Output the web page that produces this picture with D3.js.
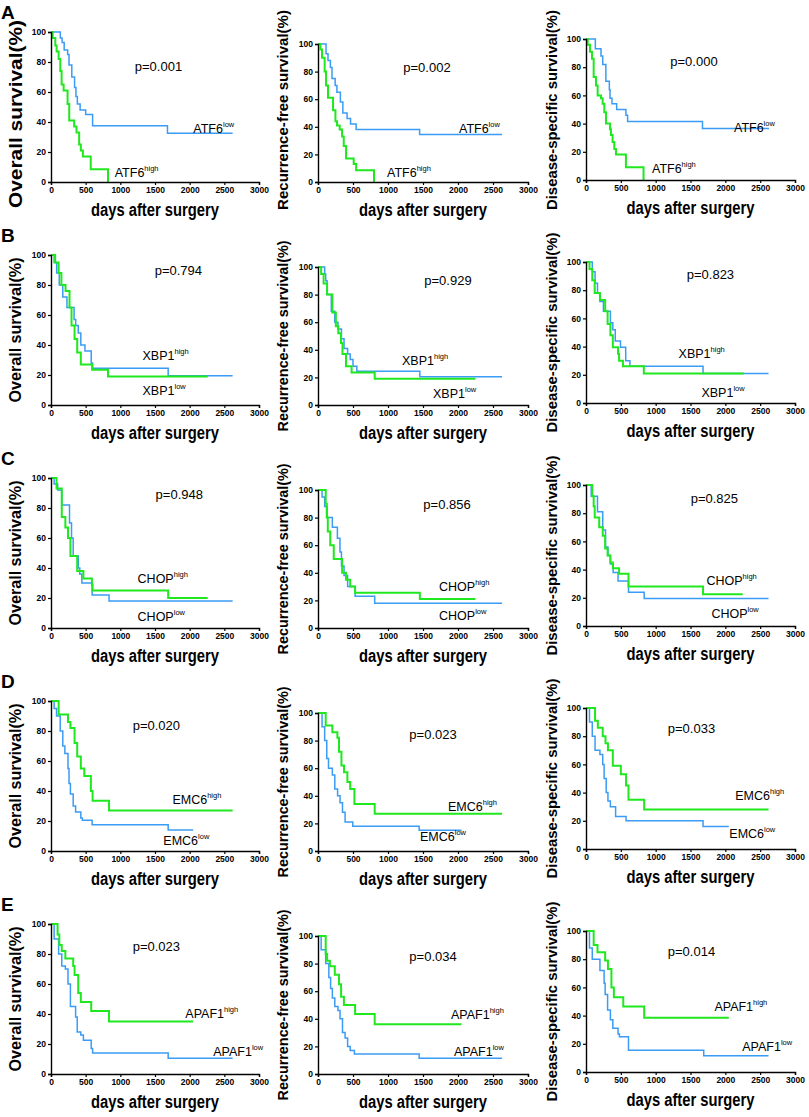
<!DOCTYPE html>
<html>
<head>
<meta charset="utf-8">
<script src="https://cdn.jsdelivr.net/npm/d3@7"></script>
<style>
  body { margin: 0; background: #fff; }
  svg { display: block; }
  text { font-family: "Liberation Sans", Arial, Helvetica, sans-serif; }
</style>
</head>
<body>
<svg width="809" height="1117"></svg>
<script>
// ---- data: [day, survival %] at each step ----
var xTicks = [0, 500, 1000, 1500, 2000, 2500, 3000];
var yTicks = [0, 20, 40, 60, 80, 100];
var genes = ["ATF6", "XBP1", "CHOP", "EMC6", "APAF1"];
var rowLetters = ["A", "B", "C", "D", "E"];
var yTitles = ["Overall survival(%)", "Recurrence-free survival(%)", "Disease-specific survival(%)"];
var pValues = [
  ["0.001", "0.002", "0.000"],
  ["0.794", "0.929", "0.823"],
  ["0.948", "0.856", "0.825"],
  ["0.020", "0.023", "0.033"],
  ["0.023", "0.034", "0.014"]
];

// ATF6
var atf6OsLow = [[0,100],[134,96],[160,93],[190,88],[240,85],[260,78],[300,70],[340,63],[360,57],[380,52],[420,48],[500,45],[600,37.5],[1680,32.5],[2620,32.5]];
var atf6OsHigh = [[0,100],[24,96],[62,91],[81,87],[110,82],[134,74],[153,65],[182,61],[239,52],[263,41],[334,37],[368,33],[406,25],[430,21],[460,17],[573,8.5],[822,0]];
var atf6RfsLow = [[0,100],[115,93],[143,88],[177,83],[200,75],[245,70],[270,65],[320,58],[355,50],[415,46],[465,42],[545,38],[1452,34.5],[2630,34.5]];
var atf6RfsHigh = [[0,100],[35,96],[57,90],[95,80],[115,70],[143,61],[215,52],[249,44],[272,41],[310,38],[344,33],[368,26],[401,17],[510,13],[545,8.5],[800,0]];
var atf6DssLow = [[0,100],[134,93],[215,88],[240,82],[285,70],[335,64],[345,58],[373,54],[440,50],[573,46],[597,41.5],[1672,36.5],[2627,36.5]];
var atf6DssHigh = [[0,100],[24,96],[57,91],[86,86],[110,73],[143,67],[167,60],[215,58],[239,54],[263,48],[287,40],[344,36],[358,32],[382,27],[406,22],[430,18],[573,9],[826,0]];

// XBP1
var xbp1OsLow = [[0,100],[45,95],[82,88],[119,80],[170,72],[230,65],[333,57],[356,53],[393,48],[430,40],[490,36],[580,28],[600,24.5],[1690,19.5],[2620,19.5]];
var xbp1OsHigh = [[0,100],[60,95],[110,88],[150,80],[210,76],[267,65],[296,53],[340,44],[378,35],[430,27],[593,23.5],[822,19],[2260,19]];
var xbp1RfsLow = [[0,100],[95,95],[110,90],[130,80],[190,68],[240,60],[285,55],[335,48],[372,41],[423,37],[460,33],[500,28],[555,24.5],[1455,20.5],[2630,20.5]];
var xbp1RfsHigh = [[0,100],[45,95],[80,88],[130,80],[205,67],[255,57],[290,52],[328,45],[350,37],[400,28],[480,23.5],[810,19],[2250,19]];
var xbp1DssLow = [[0,100],[90,93],[130,85],[165,78],[200,72],[250,65],[350,57],[385,52],[420,44],[495,39.5],[570,30],[630,26],[1680,21],[2620,21]];
var xbp1DssHigh = [[0,100],[50,95],[90,87],[125,78],[200,73],[275,65],[310,56],[350,48],[385,39.5],[460,35],[475,30],[530,26],[830,21],[2270,21]];

// CHOP
var chopOsLow = [[0,100],[45,96],[96,92],[155,82],[267,70],[296,60],[320,48],[393,40],[415,36],[445,30],[593,22],[837,18],[2620,18]];
var chopOsHigh = [[0,100],[80,93],[155,74],[207,67],[245,60],[280,48],[378,38],[467,33],[590,29],[600,25],[1690,20],[2260,20]];
var chopRfsLow = [[0,100],[58,95],[95,88],[130,80],[205,73],[277,65],[314,55],[335,45],[372,38],[423,30],[530,23],[810,18],[2630,18]];
var chopRfsHigh = [[0,100],[110,90],[125,80],[140,70],[175,60],[225,50],[345,40],[400,35],[460,30],[530,25.5],[1455,21],[2250,21]];
var chopDssLow = [[0,100],[75,92],[165,81],[240,68],[280,56],[315,50],[350,44],[390,38],[460,32],[610,24],[835,19.5],[2620,19.5]];
var chopDssHigh = [[0,100],[90,92],[110,85],[125,77],[190,70],[240,64],[275,55],[310,50],[350,45],[385,41],[475,37],[610,28],[1680,22.5],[2250,22.5]];

// EMC6
var emc6OsLow = [[0,100],[45,95],[80,90],[133,80],[170,70],[200,65],[245,55],[260,45],[280,38],[320,30],[355,26],[430,22],[452,20.5],[593,17.5],[1690,14],[2050,14]];
var emc6OsHigh = [[0,100],[110,91],[245,86],[280,82],[340,72],[378,63],[430,55],[480,50],[575,40],[600,33.5],[837,27],[2620,27]];
var emc6RfsLow = [[0,100],[58,90],[95,80],[125,67],[150,60],[205,55],[240,45],[280,40],[315,35],[350,28],[387,21],[497,18],[1445,15],[2050,15]];
var emc6RfsHigh = [[0,100],[110,91],[205,86],[277,82],[300,72],[335,62],[372,57],[420,50],[460,45],[520,34],[810,27],[2630,27]];
var emc6DssLow = [[0,100],[50,90],[90,80],[130,70],[200,67],[240,60],[260,50],[290,40],[315,34],[350,30],[425,23],[575,20],[1680,16],[2050,16]];
var emc6DssHigh = [[0,100],[130,91],[170,86],[240,80],[280,75],[315,70],[385,59],[500,53],[575,45],[610,35],[835,28],[2620,28]];

// APAF1
var apafOsLow = [[0,100],[45,90],[110,80],[155,72],[207,70],[245,60],[280,45],[355,38],[378,28],[430,26],[467,22.5],[580,17],[600,14],[1690,10.5],[2620,10.5]];
var apafOsHigh = [[0,100],[95,93],[120,86],[155,82],[207,77],[320,72],[340,66],[393,54],[430,48],[580,42],[837,35],[2050,35]];
var apafRfsLow = [[0,100],[45,90],[110,80],[155,70],[180,62],[205,55],[240,49],[285,46],[315,40],[350,30],[387,26],[423,20],[460,17],[520,14.5],[1445,11.5],[2630,11.5]];
var apafRfsHigh = [[0,100],[110,87],[130,82],[170,78],[240,72],[300,65],[330,56],[370,50],[530,43.5],[810,36],[2050,36]];
var apafDssLow = [[0,100],[50,88],[90,80],[200,72],[260,63],[275,55],[310,44],[350,37],[385,31],[460,27],[480,25],[610,15.5],[1690,11.5],[2620,11.5]];
var apafDssHigh = [[0,100],[110,90],[165,85],[275,79],[315,73],[365,60],[400,53],[535,46.5],[835,38.5],[2050,38.5]];

var lowCurves = [
  [atf6OsLow, atf6RfsLow, atf6DssLow],
  [xbp1OsLow, xbp1RfsLow, xbp1DssLow],
  [chopOsLow, chopRfsLow, chopDssLow],
  [emc6OsLow, emc6RfsLow, emc6DssLow],
  [apafOsLow, apafRfsLow, apafDssLow]
];
var highCurves = [
  [atf6OsHigh, atf6RfsHigh, atf6DssHigh],
  [xbp1OsHigh, xbp1RfsHigh, xbp1DssHigh],
  [chopOsHigh, chopRfsHigh, chopDssHigh],
  [emc6OsHigh, emc6RfsHigh, emc6DssHigh],
  [apafOsHigh, apafRfsHigh, apafDssHigh]
];

// ---- layout (where things sit on the page, in data units of each panel) ----
var colLeft = [51, 318, 586], colRight = [259, 528, 795];
var colHeight = [150, 138, 141];
var colYTitleX = [15.5, 283, 552];
var colYTitleLen = [145, 191, 200];
var colYTitleSize = [16, 15, 15];
// [day, survival] anchors for p text and the two group labels
var pPos = [
  [[1550,74],[1557,80],[1550,81]],
  [[1837,87],[1857,87],[1786,88]],
  [[1850,86],[1843,86],[1843,87]],
  [[1520,81],[1643,81],[1514,82]],
  [[1520,82],[1643,82],[1514,82]]
];
var highLabelPos = [
  [[919,3.4],[986,3.6],[947,5]],
  [[1320,30],[1200,29],[1329,32]],
  [[1249,30],[1729,27],[1729,29]],
  [[1751,31.6],[1857,29],[2143,35]],
  [[1938,37.6],[1900,40],[1843,43]]
];
var lowLabelPos = [
  [[2053,33],[2014,35.5],[2124,34]],
  [[1320,7],[1643,5],[1657,4]],
  [[1249,4.5],[1729,6],[1800,6]],
  [[1620,4],[1457,7],[2057,8]],
  [[2340,12],[1943,13],[2243,14.6]]
];

var svg = d3.select("svg");
var blue = "#3b9cf5", green = "#1fe81f";

rowLetters.forEach(function(letter, r) {
  var rowBottom = 182 + r * 223;

  svg.append("text")
      .attr("x", 1).attr("y", rowBottom - 163)
      .attr("font-size", 19).attr("font-weight", "bold")
      .text(letter);

  for (var c = 0; c < 3; c++) {
    var bottom = rowBottom - (c == 2 ? 2 : 0);
    var top = bottom - colHeight[c];
    var x = d3.scaleLinear().domain([0, 3000]).range([colLeft[c], colRight[c]]);
    var y = d3.scaleLinear().domain([0, 100]).range([bottom, top]);

    var g = svg.append("g");

    var line = d3.line()
        .x(function(d) { return x(d[0]); })
        .y(function(d) { return y(d[1]); })
        .curve(d3.curveStepAfter);

    g.append("path")
        .attr("d", line(lowCurves[r][c]))
        .attr("fill", "none")
        .attr("stroke", blue)
        .attr("stroke-width", 1.5);

    g.append("path")
        .attr("d", line(highCurves[r][c]))
        .attr("fill", "none")
        .attr("stroke", green)
        .attr("stroke-width", 2);

    var xAxis = g.append("g")
        .attr("transform", "translate(0," + bottom + ")")
        .call(d3.axisBottom(x).tickValues(xTicks).tickSize(3).tickPadding(2).tickFormat(d3.format("d")));
    var yAxis = g.append("g")
        .attr("transform", "translate(" + colLeft[c] + ",0)")
        .call(d3.axisLeft(y).tickValues(yTicks).tickSize(3).tickPadding(2));

    [xAxis, yAxis].forEach(function(a) {
      a.select(".domain").attr("stroke", "#000").attr("stroke-width", 1.4);
      a.selectAll(".tick line").attr("stroke", "#000").attr("stroke-width", 1.2);
      a.selectAll(".tick text")
          .attr("font-size", 8.5).attr("font-weight", "bold")
          .attr("font-family", "Liberation Sans, Arial, sans-serif")
          .attr("fill", "#000");
    });

    // axis titles
    g.append("text")
        .attr("x", (colLeft[c] + colRight[c]) / 2)
        .attr("y", bottom + 34)
        .attr("text-anchor", "middle")
        .attr("font-size", 18).attr("font-weight", "bold")
        .attr("textLength", 128).attr("lengthAdjust", "spacingAndGlyphs")
        .text("days after surgery");

    var firstRow = r == 0;
    var yLen = firstRow && c == 0 ? 188 : (firstRow && c == 1 ? 200 : colYTitleLen[c]);
    var ySize = firstRow && c == 0 ? 19 : colYTitleSize[c];
    var yMid = firstRow && c == 0 ? 114 : (firstRow ? 110 : (top + bottom) / 2);
    g.append("text")
        .attr("transform", "translate(" + colYTitleX[c] + "," + yMid + ") rotate(-90)")
        .attr("text-anchor", "middle")
        .attr("dy", "0.35em")
        .attr("font-size", ySize).attr("font-weight", "bold")
        .attr("textLength", yLen).attr("lengthAdjust", "spacingAndGlyphs")
        .text(yTitles[c]);

    // p value
    g.append("text")
        .attr("x", x(pPos[r][c][0])).attr("y", y(pPos[r][c][1]))
        .attr("text-anchor", "middle")
        .attr("font-size", 13)
        .text("p=" + pValues[r][c]);

    // group labels
    [["high", highLabelPos[r][c]], ["low", lowLabelPos[r][c]]].forEach(function(lb) {
      var t = g.append("text")
          .attr("x", x(lb[1][0])).attr("y", y(lb[1][1]))
          .attr("font-size", 12.5);
      t.append("tspan").text(genes[r]);
      t.append("tspan").attr("font-size", 7.5).attr("dy", -6).text(lb[0]);
    });
  }
});
</script>
</body>
</html>
